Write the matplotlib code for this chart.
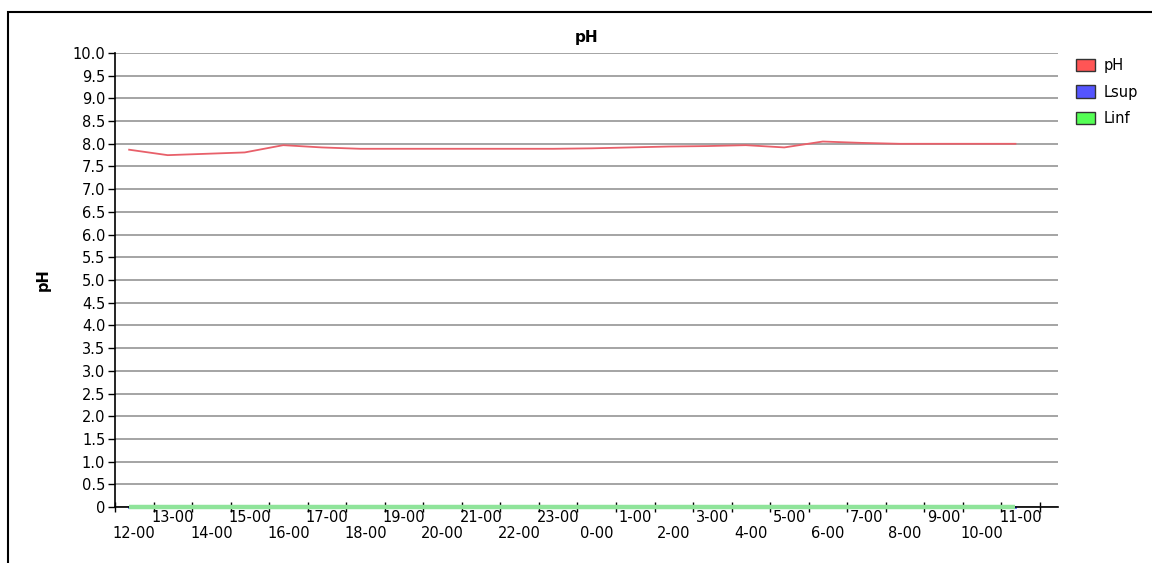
import numpy as np
import matplotlib
matplotlib.use("Agg")
import matplotlib.pyplot as plt
from matplotlib.patches import Patch, Rectangle

# --- data --- #
hour_labels = ["12-00", "13-00", "14-00", "15-00", "16-00", "17-00", "18-00", "19-00",
               "20-00", "21-00", "22-00", "23-00", "0-00", "1-00", "2-00", "3-00",
               "4-00", "5-00", "6-00", "7-00", "8-00", "9-00", "10-00", "11-00"]
ph = [7.87, 7.75, 7.78, 7.81, 7.97, 7.92, 7.89, 7.89, 7.89, 7.89, 7.89, 7.89,
      7.90, 7.92, 7.94, 7.95, 7.97, 7.92, 8.05, 8.02, 8.00, 8.00, 8.00, 8.00]
lsup = [0.0] * len(ph)
linf = [0.0] * len(ph)
sample_minute = 22  # readings taken ~22 min past each hour

plt.rcParams['font.family'] = ['DejaVu Sans']

fig = plt.figure(figsize=(11.52, 5.63), dpi=100)
ax = fig.add_axes([115 / 1152, 56 / 563, 943 / 1152, 454 / 563])

x = np.arange(len(ph)) + sample_minute / 60
ax.plot(x, lsup, color="#5555ff", lw=2, zorder=3, clip_on=False)
ax.plot(x, linf, color="#8fe49a", lw=3.2, zorder=4, solid_capstyle="butt", clip_on=False)
ax.plot(x, ph, color="#e8606a", lw=1.3, zorder=5)

ax.set_xlim(0, 24.47)
ax.set_ylim(0, 10)

# y axis
yt = np.arange(0, 10.01, 0.5)
ax.set_yticks(yt)
ax.set_yticklabels(["0"] + [f"{v:.1f}" for v in yt[1:]])
ax.tick_params(axis="y", direction="out", length=5, width=1, labelsize=10.5, pad=2)
ax.yaxis.grid(True, color="#959595", lw=1.2)
ax.set_axisbelow(True)

# x axis: ticks on the hour, labels centred in each hour, staggered in two rows
pos = np.arange(len(hour_labels)) + 0.5
ax.set_xticks(np.arange(0, 25))
ax.set_xticklabels([])
ax.set_xticks(pos[1::2], minor=True)
ax.set_xticklabels(hour_labels[1::2], minor=True)
ax.tick_params(axis="x", which="major", direction="inout", length=7, width=1)
ax.tick_params(axis="x", which="minor", length=0, labelsize=10.5, pad=2)

row2 = ax.secondary_xaxis("bottom")
row2.set_xticks(pos[0::2])
row2.set_xticklabels(hour_labels[0::2])
row2.tick_params(axis="x", length=0, labelsize=10.5, pad=14)
row2.spines["bottom"].set_visible(False)

for s in ["top", "right"]:
    ax.spines[s].set_visible(False)
ax.spines["left"].set_linewidth(1.2)
ax.spines["bottom"].set_linewidth(1.2)
ax.spines["bottom"].set_zorder(3.5)

ax.set_title("pH", fontsize=11, fontweight="bold", pad=8)
ax.set_ylabel("pH", fontsize=10.5, fontweight="bold", labelpad=16)

# legend
handles = [Patch(facecolor="#ff5555", edgecolor="#333333", label="pH"),
           Patch(facecolor="#5555ff", edgecolor="#333333", label="Lsup"),
           Patch(facecolor="#55ff55", edgecolor="#333333", label="Linf")]
fig.legend(handles=handles, loc="upper left", bbox_to_anchor=(1070 / 1152, 1 - 52 / 563),
           frameon=False, fontsize=10.5, handlelength=1.3, handleheight=0.9,
           handletextpad=0.6, labelspacing=0.8, borderaxespad=0)

# outer frame
fig.patches.append(Rectangle((8 / 1152, -0.1), 1.2, 1.1 - 12 / 563, transform=fig.transFigure,
                             fill=False, edgecolor="black", lw=1.5))

fig.savefig("out.png", dpi=100)
